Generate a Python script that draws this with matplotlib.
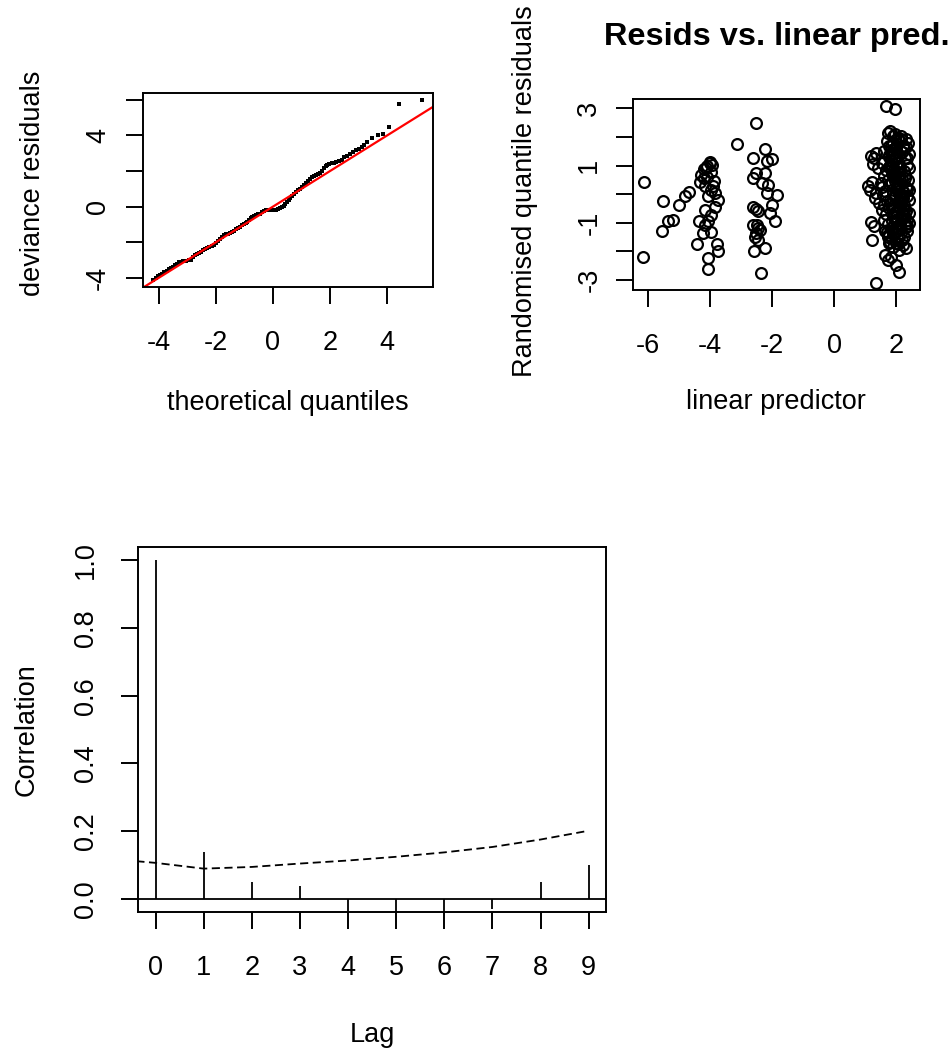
import numpy as np
import matplotlib
matplotlib.use('Agg')
import matplotlib.pyplot as plt

plt.rcParams['font.family'] = ['Liberation Sans', 'DejaVu Sans']
plt.rcParams['axes.unicode_minus'] = False

# QQ-Plot: theoretische Quantile vs. Devianz-Residuen
qq_theo = [-4.18, -4.10, -4.02, -3.95, -3.88, -3.80, -3.72, -3.65, -3.58, -3.50,
           -3.43, -3.36, -3.28, -3.21, -3.15, -3.05, -2.95, -2.86,
           -2.78, -2.71, -2.64, -2.57, -2.50, -2.43, -2.36, -2.29, -2.22, -2.15,
           -2.08, -2.01, -1.94, -1.87, -1.80, -1.73, -1.66, -1.59, -1.52, -1.45,
           -1.38, -1.31, -1.24, -1.17, -1.10, -1.03, -0.96, -0.90, -0.84, -0.78,
           -0.72, -0.66, -0.60, -0.53, -0.46, -0.39, -0.32, -0.25, -0.18, -0.11,
           -0.04, 0.03, 0.10, 0.17, 0.24, 0.31, 0.37, 0.43, 0.49, 0.55, 0.61,
           0.68, 0.75, 0.82, 0.89, 0.96, 1.03, 1.10, 1.17, 1.24, 1.31, 1.38,
           1.45, 1.52, 1.59, 1.66, 1.72, 1.78, 1.84, 1.90, 1.97, 2.05, 2.13,
           2.22, 2.31, 2.40, 2.50, 2.60, 2.70, 2.80, 2.90, 3.00, 3.10, 3.20,
           3.30, 3.48, 3.68, 3.85, 4.06, 4.39, 5.22]
qq_resid = [-4.09, -4.00, -3.92, -3.84, -3.76, -3.68, -3.59, -3.52, -3.45, -3.36,
            -3.28, -3.20, -3.12, -3.08, -3.05, -3.04, -3.02, -3.00,
            -2.83, -2.74, -2.66, -2.60, -2.53, -2.45, -2.39, -2.33, -2.27, -2.20,
            -2.13, -2.03, -1.92, -1.82, -1.72, -1.62, -1.56, -1.51, -1.47, -1.42,
            -1.35, -1.27, -1.20, -1.12, -1.05, -0.98, -0.92, -0.86, -0.76, -0.64,
            -0.58, -0.53, -0.49, -0.44, -0.39, -0.33, -0.25, -0.21, -0.19, -0.18,
            -0.18, -0.18, -0.17, -0.14, -0.10, -0.05, 0.01, 0.12, 0.25, 0.37, 0.49,
            0.61, 0.72, 0.83, 0.92, 1.00, 1.09, 1.19, 1.30, 1.42, 1.53, 1.64,
            1.72, 1.76, 1.82, 1.88, 2.00, 2.16, 2.28, 2.36, 2.41, 2.44, 2.47,
            2.50, 2.56, 2.63, 2.76, 2.85, 2.94, 3.04, 3.15, 3.25, 3.35, 3.48,
            3.60, 3.85, 4.00, 4.08, 4.45, 5.77, 5.97]
ref_intercept = 0.0
ref_slope = 1.0

# Residuen vs. linearer Praediktor
lin_pred = [
    # Gruppe links
    -6.12, -6.14, -5.50, -5.55, -5.34, -5.20, -4.99, -4.80, -4.66, -4.42,
    # Gruppe um -4
    -4.00, -4.08, -4.19, -4.27, -4.32, -4.16, -3.95, -3.84, -4.05, -3.73,
    -3.84, -4.16, -3.95, -4.35, -4.05, -4.16, -3.95, -4.21, -4.00, -3.92,
    -4.12, -3.97, -4.08, -3.88, -4.20, -3.90, -4.05, -4.05, -3.73, -3.78,
    -3.14,
    # Gruppe um -2.4
    -2.52, -2.60, -2.23, -2.17, -2.01, -2.62, -2.50, -2.23, -2.33, -2.12,
    -2.17, -1.85, -2.01, -2.52, -2.60, -2.44, -2.07, -1.90, -2.60, -2.44,
    -2.50, -2.44, -2.23, -2.59, -2.37, -2.40, -2.55, -2.47,
    # Gruppe rechts
    1.72, 1.80, 1.88, 1.95, 2.05, 2.15, 2.30,
    1.70, 1.78, 1.90, 2.00, 2.10, 2.20, 2.32, 2.38,
    1.20, 1.28, 1.35, 1.62, 1.75, 1.85, 1.98, 2.08, 2.18, 2.28, 2.40,
    1.25, 1.40, 1.55, 1.68, 1.80, 1.92, 2.02, 2.12, 2.25, 2.35, 2.42,
    1.60, 1.72, 1.85, 1.95, 2.05, 2.18, 2.28, 2.38, 1.50,
    1.10, 1.15, 1.22, 1.35, 1.55, 1.65, 1.78, 1.90, 2.00, 2.10, 2.22, 2.32, 2.42,
    1.30, 1.45, 1.58, 1.70, 1.82, 1.95, 2.05, 2.15, 2.25, 2.35, 1.62, 2.40,
    1.55, 1.68, 1.78, 1.88, 2.00, 2.12, 2.22, 2.32, 2.42,
    1.20, 1.28, 1.60, 1.72, 1.85, 1.98, 2.08, 2.20, 2.30, 2.40,
    1.65, 1.78, 1.90, 2.02, 2.15, 2.25, 2.35,
    1.22, 1.75, 1.88, 1.98, 2.10, 2.22, 2.30,
    1.65, 1.72, 1.82, 1.98, 2.08, 1.36, 1.68, 1.95,
    1.82, 1.92, 2.02, 2.12, 2.22, 1.88, 1.98, 2.08, 2.18, 2.28,
    1.84, 1.94, 2.04, 2.14, 2.24, 1.86, 1.96, 2.06, 2.16, 2.26,
    1.80, 1.90, 2.00, 2.10, 2.20, 1.78, 1.93, 2.03, 2.13, 2.33,
    1.76, 1.86, 1.96, 2.06, 2.16, 2.26, 2.36, 1.74, 1.84, 1.94,
    2.04, 2.14, 2.24, 2.34, 1.70, 1.81, 1.91, 2.01, 2.11, 2.21,
    2.31, 1.73, 1.83, 1.93, 2.03, 2.13, 2.23, 2.33, 1.79, 1.89,
]
quant_resid = [
    0.41, -2.20, -0.24, -1.29, -0.96, -0.90, -0.38, -0.08, 0.09, -1.76,
    1.09, 0.99, 0.87, 0.67, 0.41, 0.27, 0.15, 0.03, -0.08, -0.20,
    -0.44, -0.55, -0.73, -0.96, -0.96, -1.08, -1.32, -1.38, 1.13, 1.02,
    0.92, 0.78, 0.60, 0.45, 0.55, 0.30, -2.64, -2.25, -1.99, -1.75,
    1.74,
    2.50, 1.27, 1.58, 1.15, 1.23, 0.55, 0.73, 0.73, 0.38, 0.32,
    0.03, -0.03, -0.38, -0.54, -0.44, -0.61, -0.67, -0.94, -1.08, -1.20,
    -1.38, -1.62, -1.88, -2.00, -2.75, -1.25, -1.50, -1.10,
    2.15, 2.20, 2.05, 2.12, 1.98, 2.02, 1.92,
    1.85, 1.70, 1.78, 1.62, 1.88, 1.70, 1.65, 1.80,
    1.35, 1.25, 1.45, 1.50, 1.30, 1.42, 1.22, 1.38, 1.48, 1.28, 1.40,
    1.05, 0.92, 1.10, 0.85, 1.00, 0.88, 1.08, 0.95, 0.82, 1.02, 0.90,
    0.65, 0.50, 0.70, 0.45, 0.60, 0.52, 0.68, 0.48, 0.40,
    0.30, 0.15, 0.42, 0.05, 0.25, 0.10, 0.35, 0.02, 0.20, 0.32, 0.08, 0.25, 0.15,
    -0.15, -0.30, -0.05, -0.25, -0.35, -0.10, -0.28, -0.18, -0.38, -0.08, -0.40, -0.22,
    -0.55, -0.70, -0.48, -0.78, -0.60, -0.50, -0.72, -0.58, -0.65,
    -0.98, -1.12, -0.90, -1.05, -1.18, -0.95, -1.10, -0.85, -1.15, -1.00,
    -1.30, -1.45, -1.25, -1.55, -1.38, -1.50, -1.28,
    -1.62, -1.72, -1.85, -1.70, -1.95, -1.78, -1.88,
    -2.15, -2.30, -2.22, -2.48, -2.72, -3.11, 3.08, 2.99,
    1.55, 1.20, 0.78, 0.35, -0.02, -0.42, -0.82, -1.22, -1.62, 0.58,
    1.15, 0.72, 0.30, -0.12, -0.55, -0.95, -1.35, -1.75, 1.92, 1.60,
    -0.20, 0.62, 1.32, -1.48, 0.12, 0.95, -0.68, 1.75, -1.05, 0.18,
    1.38, 0.98, 0.55, 0.12, -0.30, -0.72, -1.12, -1.52, 1.18, 0.75,
    0.38, -0.05, -0.48, -0.90, -1.32, 1.02, 0.60, 0.22, -0.25, -0.65,
    -1.05, -1.42, 1.68, 1.45, -0.88, 0.48, -0.15, 1.25, -1.68, -1.40,
]

# ACF der Residuen
lags = [0, 1, 2, 3, 4, 5, 6, 7, 8, 9]
acf_vals = [1.0, 0.139, 0.05, 0.039, -0.05, -0.05, -0.05, -0.031, 0.05, 0.10]
band_lags = [-0.4, 0, 1, 2, 3, 4, 5, 6, 7, 8, 9]
band_vals = [0.111, 0.106, 0.089, 0.094, 0.104, 0.113, 0.124, 0.137, 0.153, 0.175, 0.201]

W, H = 952, 1050
fig = plt.figure(figsize=(W / 100, H / 100), dpi=100)


def rect(l, t, r, b):
    return [l / W, 1 - b / H, (r - l) / W, (b - t) / H]


FS = 19.5
TICKLEN = 11.9
LW = 1.4


def r_style(ax, xpad, ypad):
    for s in ax.spines.values():
        s.set_linewidth(LW)
    ax.tick_params(direction='out', length=TICKLEN, width=LW, labelsize=FS, colors='black')
    ax.tick_params(axis='x', pad=xpad)
    ax.tick_params(axis='y', pad=ypad)
    for lbl in ax.get_yticklabels():
        lbl.set_rotation(90)
        lbl.set_va('center')


# Panel 1: QQ-Plot
ax1 = fig.add_axes(rect(142.7, 93, 433, 286.7))
ax1.plot(qq_theo, qq_resid, 's', ms=2.2, mew=0, color='black')
ax1.margins(x=0.04, y=0.04)
ax1.axline((0, ref_intercept), slope=ref_slope, color='red', lw=1.6)
ax1.set_xticks([-4, -2, 0, 2, 4], ['-4', '-2', '0', '2', '4'])
ax1.set_yticks([-4, -2, 0, 2, 4, 6], ['-4', '', '0', '', '4', ''])
r_style(ax1, 19.4, 10.8)
ax1.set_xlabel('theoretical quantiles', fontsize=FS)
ax1.set_ylabel('deviance residuals', fontsize=FS)
ax1.xaxis.set_label_coords(0.5, -0.533)
ax1.yaxis.set_label_coords(-0.334, 0.535)

# Panel 2: Residuen vs. linearer Praediktor
ax2 = fig.add_axes(rect(632.7, 99, 920, 290))
ax2.plot(lin_pred, quant_resid, 'o', ms=7.8, mfc='none', mec='black', mew=1.6)
ax2.margins(x=0.04, y=0.04)
ax2.set_xticks([-6, -4, -2, 0, 2], ['-6', '-4', '-2', '0', '2'])
ax2.set_yticks([-3, -2, -1, 0, 1, 2, 3], ['-3', '', '-1', '', '1', '', '3'])
r_style(ax2, 19.4, 10.0)
ax2.set_xlabel('linear predictor', fontsize=FS)
ax2.set_ylabel('Randomised quantile residuals', fontsize=FS)
ax2.xaxis.set_label_coords(0.5, -0.516)
ax2.yaxis.set_label_coords(-0.330, 0.516)
ax2.set_title('Resids vs. linear pred.', fontsize=FS * 1.2, fontweight='bold', y=1.2827, pad=0)

# Panel 3: ACF
ax3 = fig.add_axes(rect(138.3, 546.7, 606, 912.3))
ax3.axhline(0, color='black', lw=1.3)
ax3.vlines(lags, 0, acf_vals, color='black', lw=1.3)
ax3.plot(band_lags, band_vals, color='black', lw=1.3, ls=(0, (4.5, 2.5)))
ax3.set_xlim(-0.36, 9.36)
ax3.set_ylim(-0.04, 1.04)
ax3.set_xticks(lags, [str(l) for l in lags])
ax3.set_yticks([0, 0.2, 0.4, 0.6, 0.8, 1.0], ['0.0', '0.2', '0.4', '0.6', '0.8', '1.0'])
r_style(ax3, 18.7, 16.6)
ax3.set_xlabel('Lag', fontsize=FS)
ax3.set_ylabel('Correlation', fontsize=FS)
ax3.xaxis.set_label_coords(0.5, -0.2995)
ax3.yaxis.set_label_coords(-0.2113, 0.501)

fig.savefig('out.png', dpi=100)
